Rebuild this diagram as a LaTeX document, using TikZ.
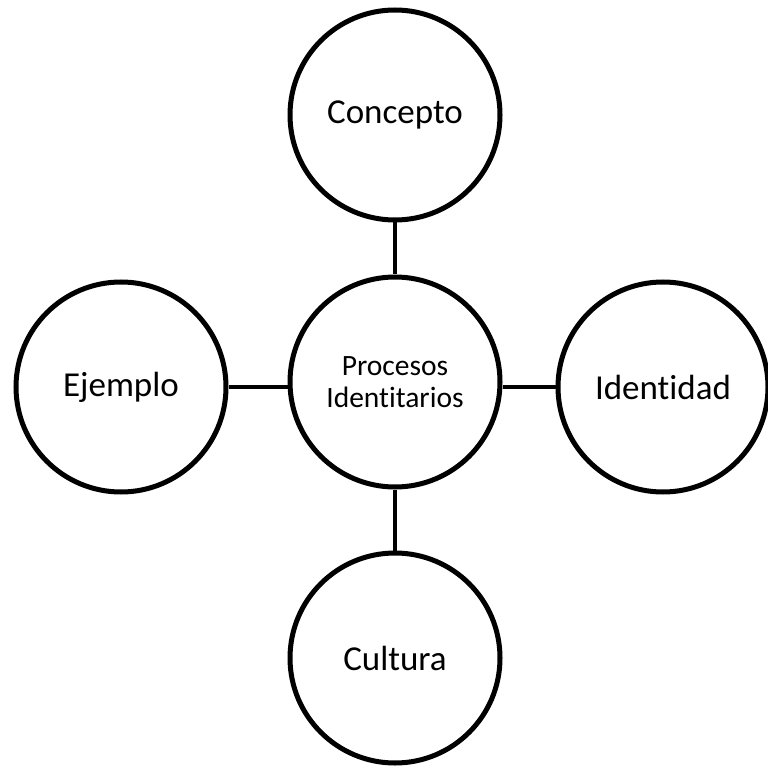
\documentclass[tikz,border=0pt]{standalone}
\usepackage{fontspec}
\setmainfont{Carlito}[Ligatures=NoCommon]
\begin{document}
\begin{tikzpicture}[x=1pt,y=-1pt,
  bubble/.style={circle,draw=black,line width=5pt,fill=white,minimum size=210pt,inner sep=0pt,align=center},
  big/.style={font=\fontsize{35}{40}\selectfont},
  small/.style={font=\fontsize{29.5}{32}\selectfont},
  link/.style={line width=4.5pt,black}]
\useasboundingbox (0,0) rectangle (768,767);
\node[bubble,small] (ce) at (395,382) {Procesos\\Identitarios};
\node[bubble,big] (co) at (395,115) {Concepto};
\node[bubble,big] (ej) at (121,387) {Ejemplo};
\node[bubble,big] (id) at (663,387) {Identidad};
\node[bubble,big] (cu) at (395,658) {Cultura};
\draw[link] (co) -- (ce);
\draw[link] (ce) -- (cu);
\draw[link] (ej.east) -- (ej.east -| ce.west);
\draw[link] (id.west) -- (id.west -| ce.east);
\end{tikzpicture}
\end{document}
